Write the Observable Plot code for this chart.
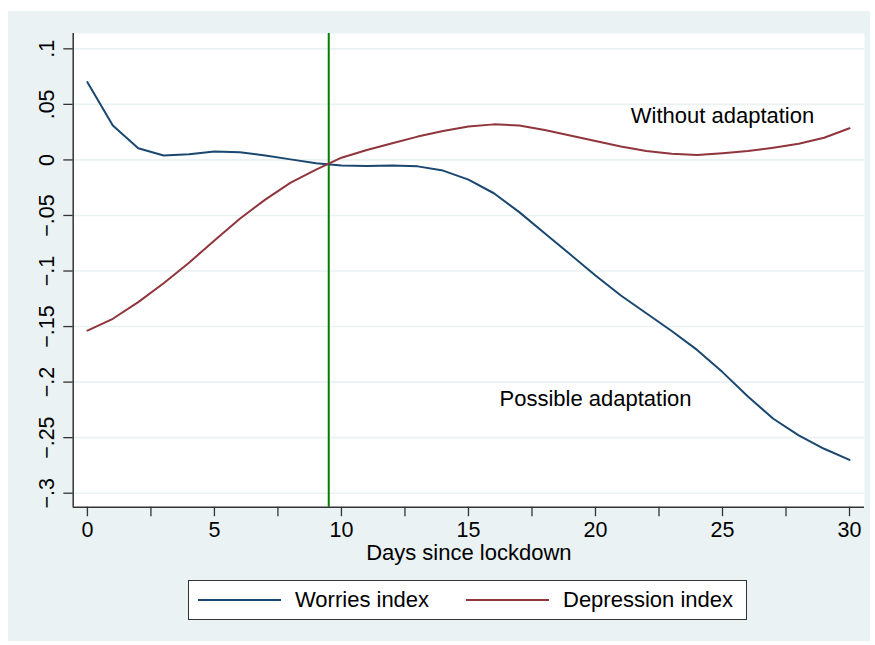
<!DOCTYPE html>
<html>
<head>
<meta charset="utf-8">
<script src="https://cdn.jsdelivr.net/npm/d3@7"></script>
<script src="https://cdn.jsdelivr.net/npm/@observablehq/plot@0.6"></script>
<style>
  html, body { margin: 0; padding: 0; background: #ffffff; }
  body { width: 875px; height: 645px; position: relative; overflow: hidden;
         font-family: "Liberation Sans", Arial, Helvetica, sans-serif; }
  #panel { position: absolute; left: 8px; top: 11px; width: 862px; height: 630px; background: #EAF2F3; }
  #chart { position: absolute; left: 0; top: 0; }
  #legend { position: absolute; left: 180px; top: 569px; width: 557px; height: 38px;
            background: #ffffff; border: 1px solid #333; box-sizing: content-box; }
  .sw { position: absolute; top: 18px; height: 2px; width: 83px; }
  .lt { position: absolute; top: 6px; font-size: 22px; line-height: 26px; color: #000; white-space: nowrap; }
</style>
</head>
<body>
<div id="panel">
  <div id="chart"></div>
  <div id="legend"></div>
</div>
<script>
// ---- data ----
const days = [0,1,2,3,4,5,6,7,8,9,10,11,12,13,14,15,16,17,18,19,20,21,22,23,24,25,26,27,28,29,30];
const worries = [0.070,0.031,0.0105,0.004,0.005,0.0075,0.007,0.004,0.0005,-0.003,-0.005,-0.0055,-0.005,-0.0058,-0.0096,-0.0177,-0.030,-0.047,-0.066,-0.085,-0.104,-0.122,-0.138,-0.154,-0.171,-0.191,-0.213,-0.233,-0.248,-0.260,-0.270];
const depression = [-0.1536,-0.143,-0.128,-0.111,-0.0925,-0.0726,-0.053,-0.0357,-0.0204,-0.0087,0.002,0.009,0.015,0.021,0.026,0.030,0.032,0.031,0.027,0.022,0.017,0.012,0.008,0.0055,0.0045,0.006,0.008,0.011,0.0145,0.020,0.0285];
const seriesNames = ["Worries index", "Depression index"];
const seriesColors = ["#1A476F", "#90353B"];
const yTicks = [0.1, 0.05, 0, -0.05, -0.1, -0.15, -0.2, -0.25, -0.3];
const yTickLabels = [".1", ".05", "0", "\u2212.05", "\u2212.1", "\u2212.15", "\u2212.2", "\u2212.25", "\u2212.3"];
const xTicks = [0, 2.5, 5, 7.5, 10, 12.5, 15, 17.5, 20, 22.5, 25, 27.5, 30];
const xLabelTicks = [0, 5, 10, 15, 20, 25, 30];
const lockdownDay = [9.5];
const annotations = [
  {day: 25, value: 0.0395, text: "Without adaptation"},
  {day: 20, value: -0.2153, text: "Possible adaptation"}
];
const xTitle = "Days since lockdown";

// ---- table ----
const table = days.map((d, i) => ({day: d, worries: worries[i], depression: depression[i]}));
const xDomain = [-0.56, 30.59];
const yDomain = [-0.3126, 0.1138];
const font = '"Liberation Sans", Arial, Helvetica, sans-serif';

const chart = Plot.plot({
  width: 862,
  height: 558,
  marginLeft: 64.7,
  marginRight: 6,
  marginTop: 22,
  marginBottom: 62.3,
  x: {domain: xDomain},
  y: {domain: yDomain},
  style: {background: "transparent", fontFamily: font, color: "#000", overflow: "visible"},
  marks: [
    Plot.frame({fill: "#ffffff", stroke: null}),
    Plot.gridY(yTicks, {stroke: "#EAF2F3", strokeOpacity: 1, strokeWidth: 1.6}),
    Plot.ruleX(lockdownDay, {stroke: "#008000", strokeWidth: 2}),
    Plot.line(table, {x: "day", y: "worries", stroke: seriesColors[0], strokeWidth: 2}),
    Plot.line(table, {x: "day", y: "depression", stroke: seriesColors[1], strokeWidth: 2}),
    Plot.text(annotations, {x: "day", y: "value", text: "text", fontSize: 22, fill: "#000", textAnchor: "middle"}),
    Plot.ruleX([xDomain[0]], {stroke: "#333", strokeWidth: 1.5}),
    Plot.ruleY([yDomain[0]], {stroke: "#333", strokeWidth: 1.5}),
    Plot.axisY({ticks: yTicks, tickSize: 9.4, tickFormat: () => "", label: null, stroke: "#333", strokeWidth: 1.3}),
    Plot.text(yTicks.map((v, i) => ({v, t: yTickLabels[i]})), {
      x: () => xDomain[0], y: "v", text: "t", rotate: -90, dx: -19.5,
      textAnchor: "middle", lineAnchor: "bottom", fontSize: 21.5, fill: "#000"
    }),
    Plot.axisX({ticks: xTicks, tickSize: 9.5, tickPadding: 5, fontSize: 21.5, label: null,
      tickFormat: d => xLabelTicks.includes(d) ? String(d) : "", stroke: "#333", strokeWidth: 1.3}),
    Plot.text([xTitle], {frameAnchor: "bottom", dy: 53, lineAnchor: "bottom", fontSize: 22, fill: "#000"})
  ]
});
document.getElementById("chart").appendChild(chart);

// ---- legend ----
const legend = document.getElementById("legend");
const swX = [9, 277];
const txX = [106, 374];
seriesNames.forEach((name, i) => {
  const sw = document.createElement("div");
  sw.className = "sw";
  sw.style.left = swX[i] + "px";
  sw.style.background = seriesColors[i];
  legend.appendChild(sw);
  const t = document.createElement("div");
  t.className = "lt";
  t.style.left = txX[i] + "px";
  t.textContent = name;
  legend.appendChild(t);
});
</script>
</body>
</html>
